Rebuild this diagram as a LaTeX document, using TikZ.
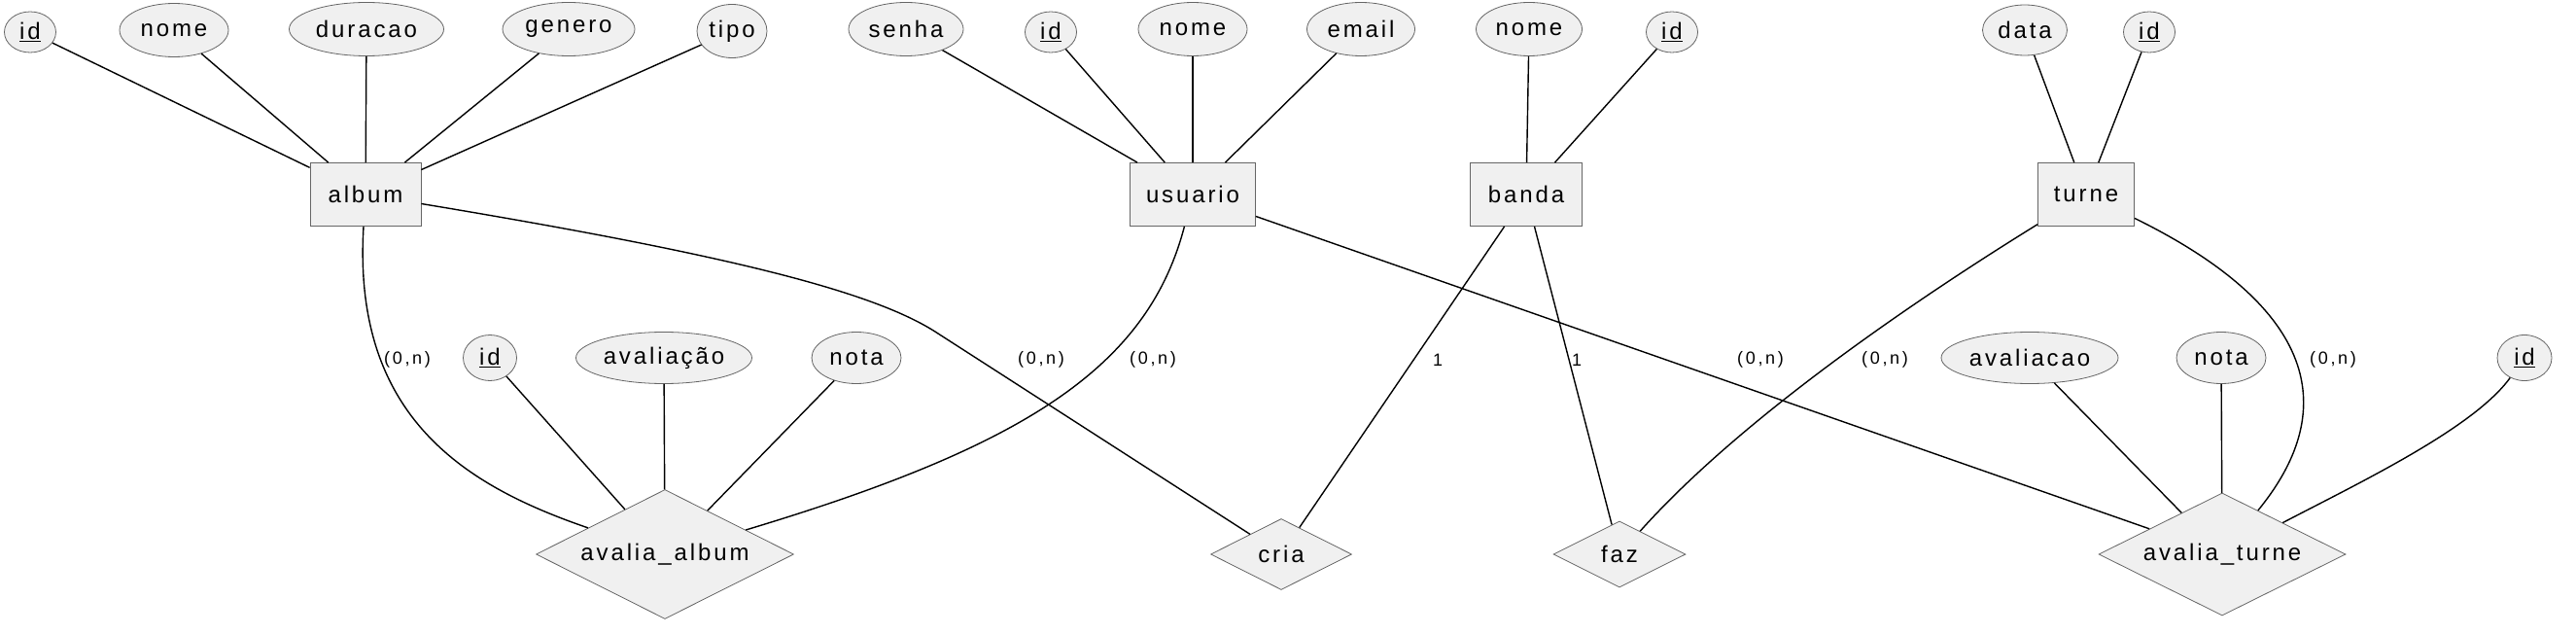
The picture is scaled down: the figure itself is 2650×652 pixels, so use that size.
\documentclass[tikz,border=0pt]{standalone}
\usepackage{fontspec}
\usepackage{tikz}
\usetikzlibrary{shapes.geometric}

\newfontfamily\erfamily{Liberation Sans}[LetterSpace=12]
\newfontfamily\cardfamily{Liberation Sans}[LetterSpace=15]
\newcommand{\erfont}{\erfamily\fontsize{24}{28}\selectfont}
\newcommand{\cardfont}{\cardfamily\fontsize{18}{21}\selectfont}

\begin{document}
\begin{tikzpicture}[x=1pt, y=-1pt,
	attr/.style={ellipse, draw=black!60, fill=black!6, line width=0.8pt, inner sep=0pt, minimum height=55pt, font=\erfont},
	keyattr/.style={attr, minimum width=53pt, minimum height=42pt},
	ent/.style={rectangle, draw=black!60, fill=black!6, line width=0.8pt, inner sep=0pt, minimum height=65pt, font=\erfont},
	rel/.style={diamond, aspect=2, draw=black!60, fill=black!6, line width=0.8pt, inner sep=0pt, font=\erfont},
	card/.style={inner sep=0pt, font=\cardfont},
	link/.style={line width=1.4pt}]
	\useasboundingbox (0,0) rectangle (2650,652);

	% entidades
	\node[ent, minimum width=114pt] (album) at (376,200) {album};
	\node[ent, minimum width=129pt] (usuario) at (1227,200) {usuario};
	\node[ent, minimum width=115pt] (banda) at (1570,200) {banda};
	\node[ent, minimum width=99pt] (turne) at (2146,200) {turne};

	% relacionamentos
	\node[rel, minimum width=265pt, minimum height=133pt] (avalia_album) at (684,570) {avalia\_album};
	\node[rel, minimum width=145pt, minimum height=73pt] (cria) at (1318,570) {cria};
	\node[rel, minimum width=136pt, minimum height=68pt] (faz) at (1666,570) {faz};
	\node[rel, minimum width=254pt, minimum height=126pt] (avalia_turne) at (2286,570) {avalia\_turne};

	% atributos album
	\node[keyattr] (album_id) at (31,33) {\underline{id}};
	\node[attr, minimum width=112pt] (album_nome) at (179,31) {nome};
	\node[attr, minimum width=159pt] (album_duracao) at (377,30) {duracao};
	\node[attr, minimum width=136pt] (album_genero) at (585,30) {genero};
	\node[attr, minimum width=72pt] (album_tipo) at (753,32) {tipo};

	% atributos usuario
	\node[attr, minimum width=118pt] (usuario_senha) at (932,30) {senha};
	\node[keyattr] (usuario_id) at (1081,33) {\underline{id}};
	\node[attr, minimum width=112pt] (usuario_nome) at (1227,30) {nome};
	\node[attr, minimum width=111pt] (usuario_email) at (1400,30) {email};

	% atributos banda e turne
	\node[attr, minimum width=109pt] (banda_nome) at (1573,30) {nome};
	\node[keyattr] (banda_id) at (1720,33) {\underline{id}};
	\node[attr, minimum width=87pt, minimum height=52pt] (turne_data) at (2083,31) {data};
	\node[keyattr] (turne_id) at (2211,33) {\underline{id}};

	% atributos das avaliacoes
	\node[keyattr, minimum width=55pt, minimum height=47pt] (aa_id) at (504,368) {\underline{id}};
	\node[attr, minimum width=181pt, minimum height=53pt] (aa_avaliacao) at (683,368) {avaliação};
	\node[attr, minimum width=92pt, minimum height=53pt] (aa_nota) at (881,368) {nota};
	\node[attr, minimum width=182pt, minimum height=53pt] (at_avaliacao) at (2088,368) {avaliacao};
	\node[attr, minimum width=92pt, minimum height=53pt] (at_nota) at (2285,368) {nota};
	\node[keyattr, minimum width=56pt, minimum height=47pt] (at_id) at (2597,368) {\underline{id}};

	% cardinalidades
	\node[card] (c_album_aa) at (419,370) {(0,n)};
	\node[card] (c_album_cria) at (1071,370) {(0,n)};
	\node[card] (c_usuario_aa) at (1186,370) {(0,n)};
	\node[card] (c_banda_cria) at (1479,370) {1};
	\node[card] (c_banda_faz) at (1622,370) {1};
	\node[card] (c_usuario_at) at (1811,370) {(0,n)};
	\node[card] (c_turne_faz) at (1939,370) {(0,n)};
	\node[card] (c_turne_at) at (2400,370) {(0,n)};

	%lines
	\draw[link] (album_id) -- (album);
	\draw[link] (album_nome) -- (album);
	\draw[link] (album_duracao) -- (album);
	\draw[link] (album_genero) -- (album);
	\draw[link] (album_tipo) -- (album);
	\draw[link] (usuario_senha) -- (usuario);
	\draw[link] (usuario_id) -- (usuario);
	\draw[link] (usuario_nome) -- (usuario);
	\draw[link] (usuario_email) -- (usuario);
	\draw[link] (banda_nome) -- (banda);
	\draw[link] (banda_id) -- (banda);
	\draw[link] (turne_data) -- (turne);
	\draw[link] (turne_id) -- (turne);
	\draw[link] (aa_id) -- (avalia_album);
	\draw[link] (aa_avaliacao) -- (avalia_album);
	\draw[link] (aa_nota) -- (avalia_album);
	\draw[link] (at_avaliacao) -- (avalia_turne);
	\draw[link] (at_nota) -- (avalia_turne);
	\draw[link] (at_id) .. controls (2545,440) and (2430,495) .. (avalia_turne);

	\draw[link] (album) .. controls (362,430) and (480,500) .. (avalia_album);
	\draw[link] (album) .. controls (750,262) and (900,300) .. (965,343) -- (cria);
	\draw[link] (usuario) .. controls (1180,380) and (1050,460) .. (avalia_album);
	\draw[link] (usuario) -- (avalia_turne);
	\draw[link] (banda) -- (cria);
	\draw[link] (banda) -- (faz);
	\draw[link] (turne) .. controls (2000,290) and (1800,420) .. (faz);
	\draw[link] (turne) .. controls (2350,300) and (2425,400) .. (avalia_turne);
\end{tikzpicture}
\end{document}
